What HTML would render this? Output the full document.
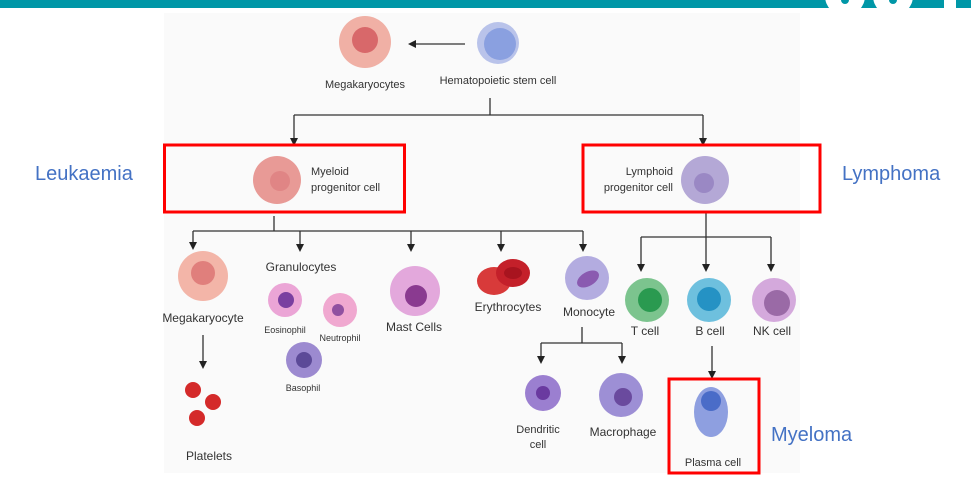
<!DOCTYPE html>
<html><head><meta charset="utf-8"><style>
html,body{margin:0;padding:0;background:#fff;width:971px;height:489px;overflow:hidden}
svg{display:block}
text{font-family:"Liberation Sans",sans-serif;fill:#333}
</style></head><body>
<svg width="971" height="489" viewBox="0 0 971 489" xmlns="http://www.w3.org/2000/svg">
<defs>
<marker id="a" markerWidth="8" markerHeight="8" refX="4" refY="4" orient="auto" markerUnits="userSpaceOnUse"><path d="M0,0 L8,4 L0,8 z" fill="#222"/></marker>
</defs>
<rect x="0" y="0" width="971" height="8" fill="#0097a7"/>
<circle cx="845" cy="-4" r="20" fill="#fff"/><circle cx="845" cy="0" r="4" fill="#0097a7"/>
<circle cx="893" cy="-4" r="20" fill="#fff"/><circle cx="893" cy="0" r="4" fill="#0097a7"/>
<rect x="944" y="0" width="12" height="8" fill="#fff"/>
<rect x="164" y="13" width="636" height="460" fill="#fafafa"/>

<g stroke="#333" stroke-width="1.3" fill="none">
<line x1="465" y1="44" x2="412" y2="44" marker-end="url(#a)"/>
<polyline points="490,98 490,115"/>
<polyline points="294,115 703,115"/>
<line x1="294" y1="115" x2="294" y2="142" marker-end="url(#a)"/>
<line x1="703" y1="115" x2="703" y2="142" marker-end="url(#a)"/>
<polyline points="274,216 274,231"/>
<polyline points="193,231 583,231"/>
<line x1="193" y1="231" x2="193" y2="246" marker-end="url(#a)"/>
<line x1="300" y1="231" x2="300" y2="248" marker-end="url(#a)"/>
<line x1="411" y1="231" x2="411" y2="248" marker-end="url(#a)"/>
<line x1="501" y1="231" x2="501" y2="248" marker-end="url(#a)"/>
<line x1="583" y1="231" x2="583" y2="248" marker-end="url(#a)"/>
<line x1="203" y1="335" x2="203" y2="365" marker-end="url(#a)"/>
<polyline points="582,327 582,343"/>
<polyline points="541,343 622,343"/>
<line x1="541" y1="343" x2="541" y2="360" marker-end="url(#a)"/>
<line x1="622" y1="343" x2="622" y2="360" marker-end="url(#a)"/>
<polyline points="706,213 706,237"/>
<polyline points="641,237 771,237"/>
<line x1="641" y1="237" x2="641" y2="268" marker-end="url(#a)"/>
<line x1="706" y1="237" x2="706" y2="268" marker-end="url(#a)"/>
<line x1="771" y1="237" x2="771" y2="268" marker-end="url(#a)"/>
<line x1="712" y1="346" x2="712" y2="375" marker-end="url(#a)"/>
</g>

<circle cx="498" cy="43" r="21" fill="#b9c3ea"/><circle cx="500" cy="44" r="16" fill="#8aa0e0"/>
<circle cx="365" cy="42" r="26" fill="#f0b0a5"/><circle cx="365" cy="40" r="13" fill="#d8686a"/>
<text x="365" y="88" font-size="11" text-anchor="middle">Megakaryocytes</text>
<text x="498" y="84" font-size="11" text-anchor="middle">Hematopoietic stem cell</text>

<rect x="164.5" y="145" width="240" height="67" fill="none" stroke="#f00" stroke-width="3"/>
<circle cx="277" cy="180" r="24" fill="#e89a96"/><circle cx="280" cy="181" r="10" fill="#e08585"/>
<text x="311" y="175" font-size="11">Myeloid</text>
<text x="311" y="191" font-size="11">progenitor cell</text>

<rect x="583" y="145" width="237" height="67" fill="none" stroke="#f00" stroke-width="3"/>
<circle cx="705" cy="180" r="24" fill="#b4a8d6"/><circle cx="704" cy="183" r="10" fill="#9a88c4"/>
<text x="673" y="175" font-size="11" text-anchor="end">Lymphoid</text>
<text x="673" y="191" font-size="11" text-anchor="end">progenitor cell</text>

<circle cx="203" cy="276" r="25" fill="#f3b5a8"/><circle cx="203" cy="273" r="12" fill="#e07f7c"/>
<text x="203" y="322" font-size="12" text-anchor="middle">Megakaryocyte</text>
<g fill="#d42a2a"><circle cx="193" cy="390" r="8"/><circle cx="213" cy="402" r="8"/><circle cx="197" cy="418" r="8"/></g>
<text x="209" y="460" font-size="12" text-anchor="middle">Platelets</text>
<text x="301" y="271" font-size="12" text-anchor="middle">Granulocytes</text>
<circle cx="285" cy="300" r="17" fill="#eba5d6"/><circle cx="286" cy="300" r="8" fill="#7a3fa0"/>
<text x="285" y="333" font-size="9" text-anchor="middle">Eosinophil</text>
<circle cx="340" cy="310" r="17" fill="#f0a8d0"/><circle cx="338" cy="310" r="6" fill="#9050a0"/>
<text x="340" y="341" font-size="9" text-anchor="middle">Neutrophil</text>
<circle cx="304" cy="360" r="18" fill="#9c8ad0"/><circle cx="304" cy="360" r="8" fill="#5c4a98"/>
<text x="303" y="391" font-size="9" text-anchor="middle">Basophil</text>
<circle cx="415" cy="291" r="25" fill="#e3a8dc"/><circle cx="416" cy="296" r="11" fill="#8a3a90"/>
<text x="414" y="331" font-size="12" text-anchor="middle">Mast Cells</text>
<ellipse cx="494" cy="281" rx="17" ry="14" fill="#d83a3a"/>
<ellipse cx="513" cy="273" rx="17" ry="14" fill="#c4202a"/><ellipse cx="513" cy="273" rx="9" ry="6" fill="#a8141f"/>
<text x="508" y="311" font-size="12" text-anchor="middle">Erythrocytes</text>
<circle cx="587" cy="278" r="22" fill="#b3ace0"/><ellipse cx="588" cy="279" rx="12" ry="7" fill="#8a5ab0" transform="rotate(-30 588 279)"/>
<text x="589" y="316" font-size="12" text-anchor="middle">Monocyte</text>
<circle cx="543" cy="393" r="18" fill="#9b7fd0"/><circle cx="543" cy="393" r="7" fill="#6a3aa0"/>
<text x="538" y="433" font-size="11" text-anchor="middle">Dendritic</text>
<text x="538" y="448" font-size="11" text-anchor="middle">cell</text>
<circle cx="621" cy="395" r="22" fill="#9d8fd5"/><circle cx="623" cy="397" r="9" fill="#6a4a9e"/>
<text x="623" y="436" font-size="12" text-anchor="middle">Macrophage</text>

<circle cx="647" cy="300" r="22" fill="#7cc48e"/><circle cx="650" cy="300" r="12" fill="#2a9a50"/>
<text x="645" y="335" font-size="12" text-anchor="middle">T cell</text>
<circle cx="709" cy="300" r="22" fill="#6ec0de"/><circle cx="709" cy="299" r="12" fill="#2592c4"/>
<text x="710" y="335" font-size="12" text-anchor="middle">B cell</text>
<circle cx="774" cy="300" r="22" fill="#d4a9dc"/><circle cx="777" cy="303" r="13" fill="#9a6aa6"/>
<text x="772" y="335" font-size="12" text-anchor="middle">NK cell</text>

<rect x="669" y="379" width="90" height="94" fill="none" stroke="#f00" stroke-width="3"/>
<ellipse cx="711" cy="412" rx="17" ry="25" fill="#8e9fe0"/><circle cx="711" cy="401" r="10" fill="#4a6cc8"/>
<text x="713" y="466" font-size="11" text-anchor="middle">Plasma cell</text>

<g font-size="20">
<text x="35" y="180" style="fill:#4472c4">Leukaemia</text>
<text x="842" y="180" style="fill:#4472c4">Lymphoma</text>
<text x="771" y="441" style="fill:#4472c4">Myeloma</text>
</g>
</svg>
</body></html>
